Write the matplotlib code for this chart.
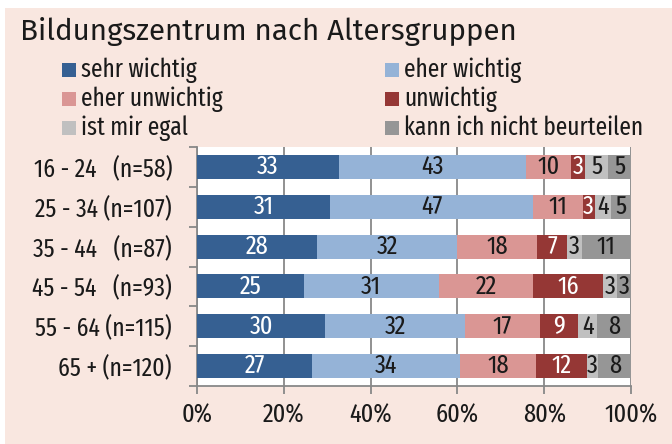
import matplotlib
matplotlib.use("Agg")
import matplotlib.pyplot as plt
from matplotlib import font_manager
from matplotlib.patches import Rectangle

names = {f.name for f in font_manager.fontManager.ttflist}


def pick(cands):
    for c in cands:
        if c in names:
            return c
    return "DejaVu Sans"


NARROW = pick(["Fira Sans Extra Condensed", "Fira Sans Condensed", "Roboto Condensed"])
TITLE_FONT = pick(["Fira Sans", "Open Sans"])
plt.rcParams['font.family'] = [NARROW, 'DejaVu Sans']

# --- data ---
groups = ["16 - 24   (n=58)", "25 - 34 (n=107)", "35 - 44   (n=87)",
          "45 - 54   (n=93)", "55 - 64 (n=115)", "65 + (n=120)"]
answers = ["sehr wichtig", "eher wichtig", "eher unwichtig",
           "unwichtig", "ist mir egal", "kann ich nicht beurteilen"]
sehr_wichtig = [32.7, 30.7, 27.6, 24.6, 29.6, 26.6]
eher_wichtig = [43.2, 46.8, 32.4, 31.2, 32.1, 34.0]
eher_unwichtig = [10.2, 11.4, 18.4, 21.7, 17.4, 17.6]
unwichtig = [3.4, 2.7, 6.8, 16.0, 8.7, 11.6]
egal = [5.3, 3.8, 3.4, 3.3, 4.4, 2.7]
weiss_nicht = [5.2, 4.6, 11.4, 3.2, 7.8, 7.5]
series = [sehr_wichtig, eher_wichtig, eher_unwichtig, unwichtig, egal, weiss_nicht]

colors = ['#366092', '#95b3d7', '#da9694', '#953735', '#c0c0c0', '#969696']
text_colors = ['white', 'black', 'black', 'white', 'black', 'black']
BG = '#f9e7e0'
INK = '#1a1a1a'

fig = plt.figure(figsize=(6.72, 4.44), dpi=100, facecolor='white')
# pink panel
fig.patches.append(Rectangle((5 / 672, 0), 1, 1 - 8 / 444, transform=fig.transFigure,
                             facecolor=BG, edgecolor='none', zorder=-5))

ax = fig.add_axes([197 / 672, 1 - 386 / 444, 434 / 672, 239 / 444])
ax.set_facecolor('white')

ypos = list(range(len(groups)))
left = [0] * len(groups)
for vals, col, tcol in zip(series, colors, text_colors):
    bars = ax.barh(ypos, vals, left=left, height=0.6, color=col, zorder=3)
    for b, v in zip(bars, vals):
        ax.text(b.get_x() + b.get_width() / 2, b.get_y() + b.get_height() / 2,
                "%.0f" % v, ha='center', va='center',
                color=tcol if tcol == 'white' else INK, fontsize=19, zorder=4)
    left = [l + v for l, v in zip(left, vals)]

ax.set_xlim(0, 100)
ax.set_ylim(len(groups) - 0.5, -0.5)
ax.set_xticks(range(0, 101, 20))
ax.set_xticklabels(["%d%%" % t for t in range(0, 101, 20)], fontsize=19, color=INK)
ax.set_yticks([y - 0.5 for y in range(len(groups) + 1)])
ax.set_yticklabels([])
ax.set_yticks(ypos, minor=True)
ax.set_yticklabels(groups, minor=True, fontsize=18.5, color=INK)
ax.tick_params(axis='y', which='minor', length=0, pad=18)
ax.tick_params(axis='y', which='major', length=6, color='#888888', width=1.3)
ax.tick_params(axis='x', length=6, color='#888888', width=1.3, pad=6)
ax.xaxis.grid(True, color='#888888', linewidth=1.3, zorder=1)
ax.set_axisbelow(True)
for s in ['top', 'right']:
    ax.spines[s].set_visible(False)
for s in ['left', 'bottom']:
    ax.spines[s].set_color('#888888')
    ax.spines[s].set_linewidth(1.3)

# title
fig.text(20 / 672, 1 - 31 / 444, "Bildungszentrum nach Altersgruppen",
         fontsize=21.3, va='center', ha='left', color=INK,
         family=[TITLE_FONT, 'DejaVu Sans'])

# legend, 3 rows x 2 columns
for i, (lab, col) in enumerate(zip(answers, colors)):
    r, c = i // 2, i % 2
    x0 = [62, 385][c]
    yc = 70 + 29 * r
    fig.patches.append(Rectangle((x0 / 672, 1 - (yc + 7) / 444), 14 / 672, 14 / 444,
                                 transform=fig.transFigure, facecolor=col,
                                 edgecolor='none'))
    fig.text((x0 + 19) / 672, 1 - yc / 444, lab, fontsize=18.3, va='center',
             ha='left', color=INK)

fig.savefig("out.png", dpi=100, facecolor=fig.get_facecolor())
